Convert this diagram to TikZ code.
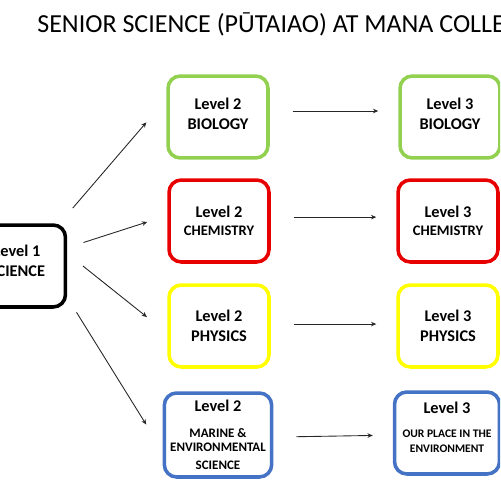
\documentclass[tikz,border=0pt]{standalone}
\usepackage{fontspec}
\setmainfont{Carlito}
\usetikzlibrary{arrows.meta}

\definecolor{biogreen}{RGB}{146,208,80}
\definecolor{chemred}{RGB}{232,0,0}
\definecolor{physyellow}{RGB}{255,255,0}
\definecolor{marblue}{RGB}{68,114,196}

\tikzset{
  lvl/.style={draw,line width=2pt,rounded corners=7pt,minimum width=2cm,
    minimum height=1.64cm,align=center,fill=white,
    font=\fontsize{9.3}{11.5}\selectfont\bfseries},
  link/.style={->,line width=0.5pt,draw=black!85},
}

\begin{document}
\begin{tikzpicture}[x=0.02cm,y=-0.02cm,>={Stealth[length=3pt,width=2.6pt]}]
  \useasboundingbox (0,0) rectangle (500,500);
  \clip (0,0) rectangle (500,500);
  % title, runs off the right edge
  \node[anchor=base west,inner sep=0pt,font=\fontsize{14.8}{17}\selectfont]
    (title) at (37,33) {SENIOR SCIENCE (PŪTAIAO) AT MANA COLLEGE};
  % level 1, cut by the left edge
  \node[lvl,draw=black,minimum width=1.94cm] (l1) at (17,266)
    {Level 1\\SCIENCE\\[-5.9pt]\mbox{}};
  % level 2 column
  \node[lvl,draw=biogreen] (bio2) at (218,117) {Level 2\\BIOLOGY\\[-8.1pt]\mbox{}};
  \node[lvl,draw=chemred] (chem2) at (219,221)
    {Level 2\\[-1.3pt]{\fontsize{8.3}{10}\selectfont CHEMISTRY}};
  \node[lvl,draw=physyellow] (phys2) at (219,326) {Level 2\\PHYSICS};
  \node[lvl,draw=marblue,minimum width=2.12cm,minimum height=1.68cm] (mar2) at (218,435)
    {Level 2\\[3.2pt]{\fontsize{7.4}{8}\selectfont MARINE \&}\\[-3.5pt]
     {\fontsize{7.4}{8}\selectfont ENVIRONMENTAL}\\[-1.3pt]
     {\fontsize{7.4}{8}\selectfont SCIENCE}};
  % level 3 column
  \node[lvl,draw=biogreen] (bio3) at (450,117) {Level 3\\BIOLOGY\\[-8.1pt]\mbox{}};
  \node[lvl,draw=chemred] (chem3) at (448,221)
    {Level 3\\[-1.3pt]{\fontsize{8.3}{10}\selectfont CHEMISTRY}};
  \node[lvl,draw=physyellow] (phys3) at (448,326) {Level 3\\PHYSICS};
  \node[lvl,draw=marblue,minimum width=2.1cm] (mar3) at (447,433)
    {Level 3\\[2pt]{\fontsize{6.6}{8}\selectfont OUR PLACE IN THE}\\[-3pt]
     {\fontsize{6.6}{8}\selectfont ENVIRONMENT}\\[-4.7pt]\mbox{}};
  % level 2 to level 3
  \foreach \a/\b/\dy in {bio2/bio3/3.4pt,chem2/chem3/2.2pt,phys2/phys3/1.1pt,mar2/mar3/-1.2pt}
    \draw[link,shorten <=0.46cm,shorten >=0.4cm]
      ([yshift=\dy]\a.east) -- ([yshift=\dy]\b.west);
  % level 1 fans out
  \draw[link,shorten <=0.4cm,shorten >=0.61cm] (l1.45) -- (bio2.161);
  \draw[link,shorten <=0.34cm,shorten >=0.42cm] (l1.20) -- (chem2.174);
  \draw[link,shorten <=0.4cm,shorten >=0.52cm] (l1.14) -- (phys2.188);
  \draw[link,shorten <=0.35cm,shorten >=0.62cm] (l1.-32) -- (mar2.196);
\end{tikzpicture}
\end{document}
